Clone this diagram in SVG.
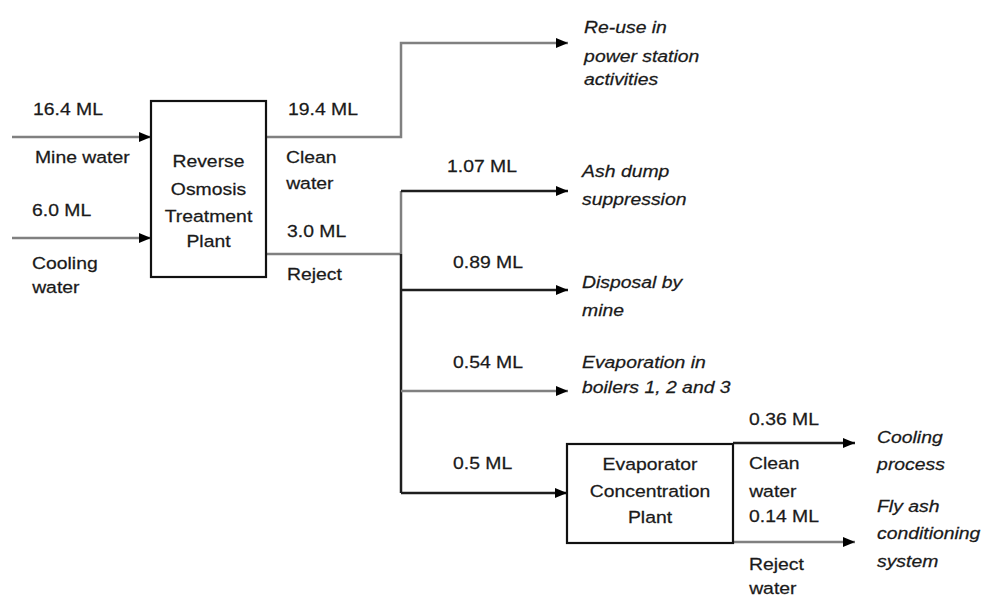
<svg xmlns="http://www.w3.org/2000/svg" width="985" height="596" viewBox="0 0 985 596">
  <style>
    text { font-family: "Liberation Sans", Arial, sans-serif; font-size: 17px; fill: #1a1a1a;
           stroke: #1a1a1a; stroke-width: 0.25;
           transform: scaleX(1.14); transform-box: fill-box; transform-origin: 0 0; }
    text.c { text-anchor: middle; transform-origin: 50% 50%; }
    text.i { font-style: italic; }
    .box { fill: #ffffff; stroke: #111; stroke-width: 2.2; }
    .ln { fill: none; stroke-width: 2.5; }
    .g { stroke: #808080; }
    .k { stroke: #1e1e1e; }
  </style>
  <defs>
    <marker id="ah" viewBox="0 0 12 10" refX="12" refY="5" markerWidth="12" markerHeight="10" markerUnits="userSpaceOnUse" orient="auto">
      <path d="M0,0 L12,5 L0,10 Z" fill="#000"/>
    </marker>
  </defs>

  <rect width="985" height="596" fill="#ffffff"/>

  <!-- connectors -->
  <g id="connectors">
    <line class="ln g" x1="12" y1="137" x2="151" y2="137" marker-end="url(#ah)"/>
    <line class="ln g" x1="12" y1="238" x2="151" y2="238" marker-end="url(#ah)"/>
    <polyline class="ln g" points="266,137 401,137 401,43 568,43" marker-end="url(#ah)"/>
    <line class="ln g" x1="266" y1="254" x2="401" y2="254"/>
    <line class="ln g" x1="401" y1="191" x2="401" y2="254"/>
    <line class="ln k" x1="401" y1="254" x2="401" y2="493"/>
    <line class="ln k" x1="401" y1="191" x2="568" y2="191" marker-end="url(#ah)"/>
    <line class="ln k" x1="401" y1="290" x2="568" y2="290" marker-end="url(#ah)"/>
    <line class="ln g" x1="401" y1="391" x2="568" y2="391" marker-end="url(#ah)"/>
    <line class="ln k" x1="401" y1="493" x2="567" y2="493" marker-end="url(#ah)"/>
    <line class="ln k" x1="733" y1="443" x2="855" y2="443" marker-end="url(#ah)"/>
    <line class="ln g" x1="733" y1="542" x2="855" y2="542" marker-end="url(#ah)"/>
  </g>

  <!-- reverse osmosis plant -->
  <g id="ro-plant">
    <rect class="box" x="151" y="101" width="115" height="176"/>
    <text class="c" x="208.5" y="167">Reverse</text>
    <text class="c" x="208.5" y="195">Osmosis</text>
    <text class="c" x="208.5" y="222">Treatment</text>
    <text class="c" x="208.5" y="247">Plant</text>
  </g>

  <!-- evaporator concentration plant -->
  <g id="evap-plant">
    <rect class="box" x="567" y="444" width="166" height="99"/>
    <text class="c" x="650" y="470">Evaporator</text>
    <text class="c" x="650" y="497">Concentration</text>
    <text class="c" x="650" y="523">Plant</text>
  </g>

  <!-- inflows -->
  <g id="in-mine">
    <text x="33" y="115">16.4 ML</text>
    <text x="35" y="163">Mine water</text>
  </g>
  <g id="in-cooling">
    <text x="32" y="216">6.0 ML</text>
    <text x="32" y="269">Cooling</text>
    <text x="32" y="293">water</text>
  </g>

  <!-- RO outflows -->
  <g id="ro-clean">
    <text x="288" y="115">19.4 ML</text>
    <text x="286" y="163">Clean</text>
    <text x="286" y="189">water</text>
  </g>
  <g id="ro-reject">
    <text x="287" y="237">3.0 ML</text>
    <text x="287" y="280">Reject</text>
  </g>

  <!-- destinations -->
  <g id="reuse">
    <text class="i" x="584" y="33">Re-use in</text>
    <text class="i" x="584" y="62">power station</text>
    <text class="i" x="584" y="85">activities</text>
  </g>
  <g id="ash-dump">
    <text x="447" y="172">1.07 ML</text>
    <text class="i" x="582" y="177">Ash dump</text>
    <text class="i" x="582" y="205">suppression</text>
  </g>
  <g id="disposal">
    <text x="453" y="268">0.89 ML</text>
    <text class="i" x="582" y="288">Disposal by</text>
    <text class="i" x="582" y="316">mine</text>
  </g>
  <g id="boilers">
    <text x="453" y="368">0.54 ML</text>
    <text class="i" x="582" y="368">Evaporation in</text>
    <text class="i" x="582" y="393">boilers 1, 2 and 3</text>
  </g>
  <g id="to-evap">
    <text x="453" y="469">0.5 ML</text>
  </g>

  <!-- evaporator outflows -->
  <g id="evap-clean">
    <text x="749" y="425">0.36 ML</text>
    <text x="749" y="469">Clean</text>
    <text x="749" y="497">water</text>
  </g>
  <g id="evap-reject">
    <text x="749" y="522">0.14 ML</text>
    <text x="749" y="570">Reject</text>
    <text x="749" y="594">water</text>
  </g>
  <g id="cooling-process">
    <text class="i" x="877" y="443">Cooling</text>
    <text class="i" x="877" y="470">process</text>
  </g>
  <g id="fly-ash">
    <text class="i" x="877" y="512">Fly ash</text>
    <text class="i" x="877" y="539">conditioning</text>
    <text class="i" x="877" y="567">system</text>
  </g>
</svg>
